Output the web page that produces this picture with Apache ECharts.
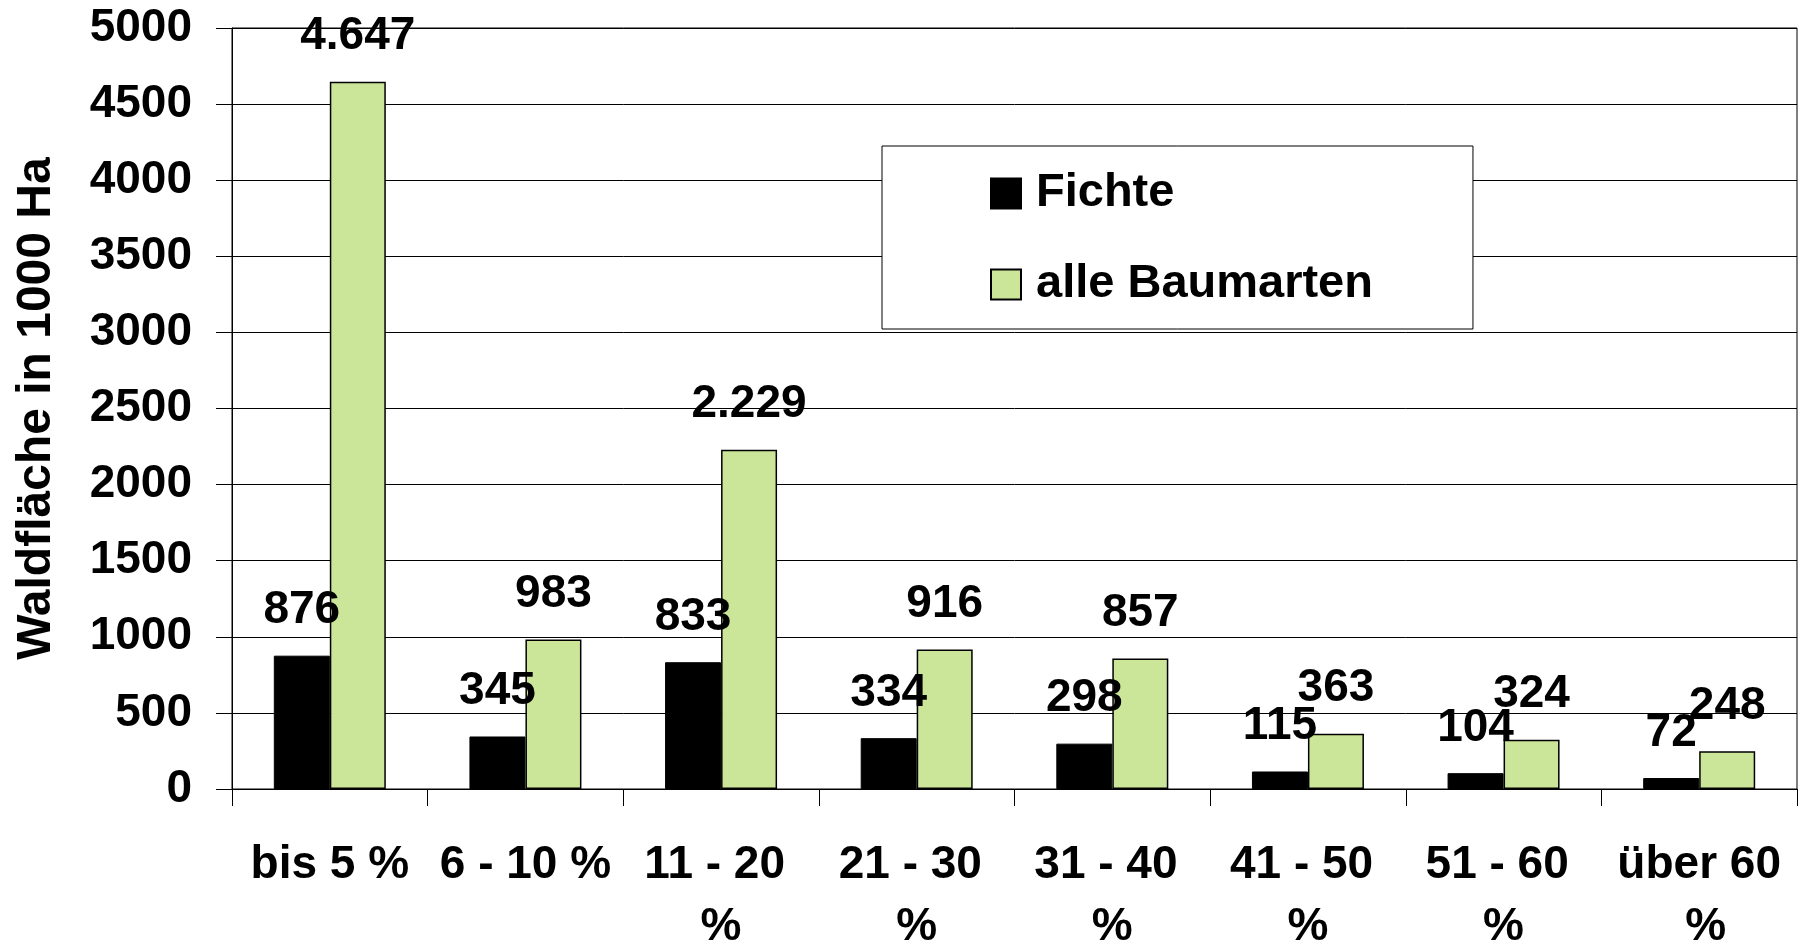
<!DOCTYPE html>
<html>
<head>
<meta charset="utf-8">
<script src="https://cdn.jsdelivr.net/npm/echarts@6/dist/echarts.min.js"></script>
<style>
  html, body { margin: 0; padding: 0; background: #fff; }
  #chart { width: 1801px; height: 945px; }
</style>
</head>
<body>
<div id="chart"></div>
<script>
// categories and values
const categories = ['bis 5 %', '6 - 10 %', '11 - 20 %', '21 - 30 %', '31 - 40 %', '41 - 50 %', '51 - 60 %', 'über 60 %'];
const fichte = [876, 345, 833, 334, 298, 115, 104, 72];
const alleBaumarten = [4647, 983, 2229, 916, 857, 363, 324, 248];
const seriesNames = ['Fichte', 'alle Baumarten'];
const yAxisTitle = 'Waldfläche in 1000 Ha';

const FONT = '"Liberation Sans", Arial, sans-serif';
const fmt = v => v.toLocaleString('de-DE');

const barLabel = {
  show: true,
  position: 'top',
  distance: 22,
  color: '#000',
  fontFamily: FONT,
  fontWeight: 'bold',
  fontSize: 46,
  formatter: p => fmt(p.value)
};

const chart = echarts.init(document.getElementById('chart'));
chart.setOption({
  animation: false,
  backgroundColor: '#fff',
  grid: {
    left: 232,
    right: 4,
    top: 28,
    bottom: 156,
    outerBoundsMode: 'none',
    containLabel: false,
    show: true,
    borderColor: '#000',
    borderWidth: 1
  },
  legend: {
    orient: 'vertical',
    left: 882,
    top: 146,
    padding: [24, 100, 21, 108],
    itemGap: 44,
    itemWidth: 30,
    itemHeight: 30,
    icon: 'rect',
    backgroundColor: '#fff',
    borderColor: '#000',
    borderWidth: 1,
    selectedMode: false,
    textStyle: { color: '#000', fontFamily: FONT, fontWeight: 'bold', fontSize: 47, padding: [0, 0, 0, 10] },
    data: seriesNames
  },
  xAxis: {
    type: 'category',
    data: categories,
    axisLine: { lineStyle: { color: '#000', width: 1 } },
    axisTick: { show: true, length: 17, lineStyle: { color: '#000' } },
    axisLabel: {
      interval: 0,
      margin: 45,
      color: '#000',
      fontFamily: FONT,
      fontWeight: 'bold',
      fontSize: 46,
      lineHeight: 62,
      width: 188,
      overflow: 'break'
    }
  },
  yAxis: {
    type: 'value',
    min: 0,
    max: 5000,
    interval: 500,
    name: yAxisTitle,
    nameLocation: 'middle',
    nameRotate: 90,
    nameGap: 171,
    nameTextStyle: { color: '#000', fontFamily: FONT, fontWeight: 'bold', fontSize: 48 },
    axisLine: { show: true, lineStyle: { color: '#000', width: 1 } },
    axisTick: { show: true, length: 16, lineStyle: { color: '#000' } },
    splitLine: { show: true, lineStyle: { color: '#000', width: 1 } },
    axisLabel: {
      margin: 40,
      color: '#000',
      fontFamily: FONT,
      fontWeight: 'bold',
      fontSize: 46,
      formatter: v => String(v)
    }
  },
  series: [
    {
      name: seriesNames[0],
      type: 'bar',
      data: fichte,
      barWidth: 56,
      barGap: '0%',
      itemStyle: { color: '#000', borderColor: '#000', borderWidth: 1 },
      label: barLabel
    },
    {
      name: seriesNames[1],
      type: 'bar',
      data: alleBaumarten,
      barWidth: 56,
      barGap: '0%',
      itemStyle: { color: '#CCE699', borderColor: '#000', borderWidth: 1.5 },
      label: barLabel
    }
  ]
});
</script>
</body>
</html>
